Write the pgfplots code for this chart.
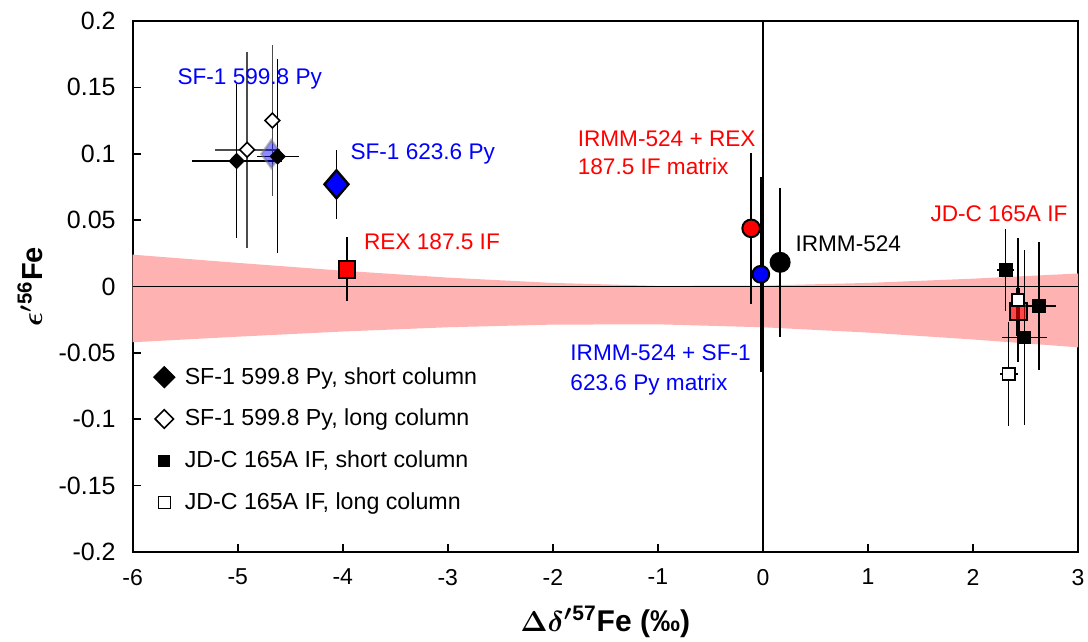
\documentclass[border=0pt]{standalone}
\usepackage{fontspec}
\setmainfont{Liberation Sans}
\usepackage{pgfplots}
\pgfplotsset{compat=1.18}
\definecolor{band}{RGB}{255,178,178}
\definecolor{mblue}{RGB}{0,0,255}
\definecolor{mred}{RGB}{255,0,0}
\newcommand{\lbl}{\fontsize{11.3}{13.5}\selectfont}
\newcommand{\lgd}{\fontsize{11.6}{13.5}\selectfont}
\begin{document}
\begin{tikzpicture}
\begin{axis}[
  name=ax, scale only axis, width=472.65pt, height=265.5pt,
  xmin=-6, xmax=3, ymin=-0.2, ymax=0.2,
  axis line style={line width=1pt},
  xtick={-6,-5,-4,-3,-2,-1,0,1,2,3},
  xticklabels={-6,-5,-4,-3,-2,-1,0,1,2,3},
  ytick={-0.2,-0.15,-0.1,-0.05,0,0.05,0.1,0.15,0.2},
  yticklabels={-0.2,-0.15,-0.1,-0.05,0,0.05,0.1,0.15,0.2},
  xtick pos=bottom, ytick pos=left, tick align=inside,
  major tick length=4pt, tick style={black, line width=0.8pt},
  xticklabel style={font=\fontsize{11.5}{13}\selectfont, yshift=-5pt},
  yticklabel style={font=\fontsize{12.5}{14}\selectfont, xshift=-5pt},
  xlabel={{\boldmath$\Delta\delta'$}\textsuperscript{57}Fe (‰)},
  ylabel={{\boldmath$\epsilon'$}\textsuperscript{56}Fe},
  every axis x label/.style={at={(axis description cs:0.5,-0.1488)}, anchor=base, font=\bfseries\fontsize{15}{17}\selectfont},
  every axis y label/.style={at={(axis description cs:-0.1088,0.5)}, anchor=center, rotate=90, font=\bfseries\fontsize{14.5}{16}\selectfont},
  legend style={at={(axis cs:-5.86,-0.0545)}, anchor=north west, draw=none, fill=none,
    font=\lgd, row sep=7pt, cells={anchor=west},
    /tikz/every odd column/.append style={column sep=3pt}},
  legend cell align=left,
  error bars/error mark=none,
  error bars/error bar style={black, line width=0.8pt},
]
% confidence band
\addplot[fill=band, draw=none, forget plot] coordinates {
 (-6,0.0240) (-5,0.0178) (-4,0.0119) (-3,0.0067) (-2,0.0027) (-1,0.0005) (0,0.0007) (1,0.0027) (2,0.0059) (3,0.0098)
 (3,-0.0458) (2,-0.0399) (1,-0.0347) (0,-0.0307) (-1,-0.0285) (-2,-0.0287) (-3,-0.0307) (-4,-0.0339) (-5,-0.0378) (-6,-0.0420)
} -- cycle;
% zero lines
\addplot[black, line width=0.9pt, forget plot] coordinates {(-6,0) (3,0)};
\addplot[black, line width=0.9pt, forget plot] coordinates {(0,-0.2) (0,0.2)};

% legend images
\addlegendimage{only marks, mark=diamond*, mark size=5.25pt, mark options={xscale=1.33, fill=black, draw=black, line width=0.6pt}}
\addlegendentry{SF-1 599.8 Py, short column}
\addlegendimage{only marks, mark=diamond*, mark size=4.6pt, mark options={xscale=1.33, fill=white, draw=black, line width=0.8pt}}
\addlegendentry{SF-1 599.8 Py, long column}
\addlegendimage{only marks, mark=square*, mark size=2.75pt, mark options={fill=black, draw=black}}
\addlegendentry{JD-C 165A IF, short column}
\addlegendimage{only marks, mark=square*, mark size=3pt, mark options={fill=white, draw=black, line width=0.7pt}}
\addlegendentry{JD-C 165A IF, long column}

% translucent SF-1 mean
\addplot[only marks, mark=diamond*, mark size=7pt, forget plot,
  mark options={xscale=0.95, fill=mblue, draw=gray, fill opacity=0.45, draw opacity=0.5, line width=1.2pt}]
  coordinates {(-4.68,0.0998)};
% SF-1 long column (open diamonds)
\addplot[only marks, mark=diamond*, mark size=3.7pt, forget plot,
  mark options={xscale=1.33, fill=white, draw=black, line width=0.8pt},
  error bars/.cd, x dir=both, y dir=both, x explicit, y explicit,
  error bar style={black!70, line width=0.8pt}]
  table[x=x, y=y, x error=ex, y error=ey] {
x y ex ey
-4.91 0.103 0.31 0.074
-4.67 0.125 0.0 0.057
};
% SF-1 short column (filled diamonds)
\addplot[only marks, mark=diamond*, mark size=3.7pt, forget plot,
  mark options={xscale=1.33, fill=black, draw=black, line width=0.6pt},
  error bars/.cd, x dir=both, y dir=both, x explicit, y explicit]
  table[x=x, y=y, x error=ex, y error=ey] {
x y ex ey
-5.01 0.0945 0.43 0.058
-4.62 0.098 0.20 0.073
};
% SF-1 623.6 Py
\addplot[only marks, mark=diamond*, mark size=7pt, forget plot,
  mark options={xscale=1.14, fill=mblue, draw=black, line width=1.2pt},
  error bars/.cd, y dir=both, y explicit]
  table[x=x, y=y, y error=ey] {
x y ey
-4.06 0.077 0.026
};
% REX 187.5 IF
\addplot[only marks, mark=square*, mark size=4.2pt, forget plot,
  mark options={fill=mred, draw=black, line width=1pt},
  error bars/.cd, y dir=both, y explicit]
  table[x=x, y=y, y error=ey] {
x y ey
-3.96 0.013 0.024
};
% IRMM-524 + REX matrix
\addplot[only marks, mark=*, mark size=4.4pt, forget plot,
  mark options={fill=mred, draw=black, line width=1pt},
  error bars/.cd, y dir=both, y explicit]
  table[x=x, y=y, y error=ey] {
x y ey
-0.112 0.0438 0.057
};
% IRMM-524 + SF-1 matrix
\addplot[only marks, mark=*, mark size=4.2pt, forget plot,
  mark options={fill=mblue, draw=black, line width=1pt},
  error bars/.cd, y dir=both, y explicit]
  table[x=x, y=y, y error=ey] {
x y ey
-0.02 0.0092 0.0735
};
% IRMM-524
\addplot[only marks, mark=*, mark size=4.75pt, forget plot,
  mark options={fill=black, draw=black, line width=1pt},
  error bars/.cd, y dir=both, y explicit]
  table[x=x, y=y, y error=ey] {
x y ey
0.164 0.0182 0.056
};
% JD-C translucent mean
\addplot[only marks, mark=square*, mark size=4.2pt, forget plot,
  mark options={fill=mred, draw=black, fill opacity=0.6, line width=1pt},
  error bars/.cd, y dir=both, y explicit, error bar style={line width=2pt}]
  table[x=x, y=y, y error=ey] {
x y ey
2.43 -0.019 0.018
};
% JD-C short column
\addplot[only marks, mark=square*, mark size=3.2pt, forget plot,
  mark options={fill=black, draw=black},
  error bars/.cd, x dir=both, y dir=both, x explicit, y explicit]
  table[x=x, y=y, x error=ex, y error=ey] {
x y ex ey
2.31 0.0124 0.083 0.031
2.63 -0.0147 0.16 0.048
2.49 -0.0383 0.21 0.066
};
% JD-C long column
\addplot[only marks, mark=square*, mark size=3.1pt, forget plot,
  mark options={fill=white, draw=black, line width=0.9pt},
  error bars/.cd, x dir=both, y dir=both, x explicit, y explicit]
  table[x=x, y=y, x error=ex, y error=ey] {
x y ex ey
2.43 -0.0102 0.0 0.0465
2.34 -0.0659 0.087 0.039
};

% annotations
\node[anchor=base west, inner sep=0pt, text=mblue, font=\lbl] at (axis cs:-5.577,0.1518) {SF-1 599.8 Py};
\node[anchor=base west, inner sep=0pt, text=mblue, font=\lbl] at (axis cs:-3.93,0.0953) {SF-1 623.6 Py};
\node[anchor=base west, inner sep=0pt, text=mred, font=\lbl] at (axis cs:-3.80,0.0275) {REX 187.5 IF};
\node[anchor=base west, inner sep=0pt, text=mred, font=\lbl] at (axis cs:-1.766,0.1053) {IRMM-524 + REX};
\node[anchor=base west, inner sep=0pt, text=mred, font=\lbl] at (axis cs:-1.766,0.0840) {187.5 IF matrix};
\node[anchor=base west, inner sep=0pt, text=black, font=\lbl] at (axis cs:0.307,0.026) {IRMM-524};
\node[anchor=base west, inner sep=0pt, text=mred, font=\lbl] at (axis cs:1.592,0.0493) {JD-C 165A IF};
\node[anchor=base west, inner sep=0pt, text=mblue, font=\lbl] at (axis cs:-1.836,-0.0561) {IRMM-524 + SF-1};
\node[anchor=base west, inner sep=0pt, text=mblue, font=\lbl] at (axis cs:-1.836,-0.0780) {623.6 Py matrix};
\end{axis}
\pgfresetboundingbox
\path ([xshift=-66.35pt,yshift=-44.5pt]ax.south west) rectangle ([xshift=5pt,yshift=10.5pt]ax.north east);
\end{tikzpicture}
\end{document}
